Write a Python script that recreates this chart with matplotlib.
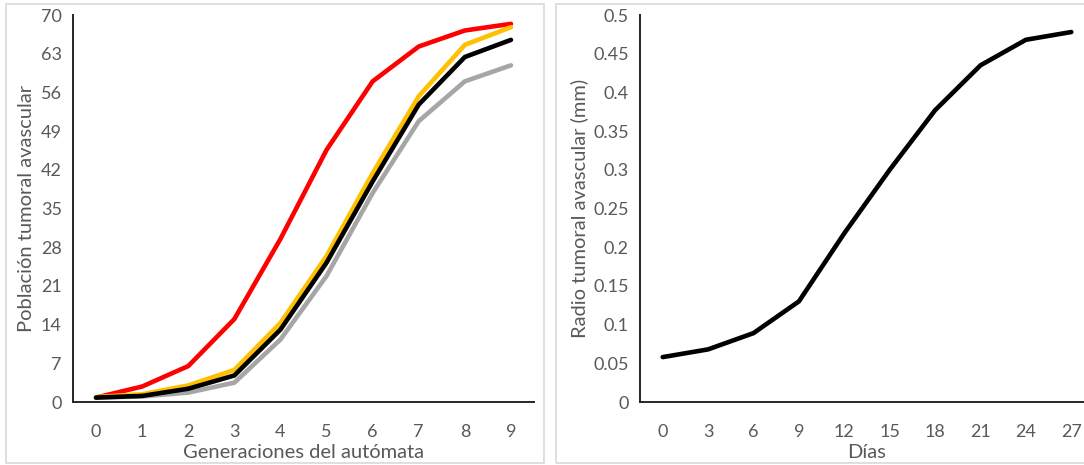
import matplotlib
matplotlib.use("Agg")
import matplotlib.pyplot as plt
from matplotlib.patches import Rectangle

plt.rcParams['font.family'] = ['Lato', 'DejaVu Sans']

# ---- data ----
generaciones = list(range(10))
pob_red = [0.8, 2.8, 6.5, 15.0, 29.5, 45.6, 58.0, 64.3, 67.2, 68.4]
pob_orange = [0.9, 1.4, 3.0, 5.8, 14.3, 26.4, 41.4, 55.3, 64.6, 67.8]
pob_black = [0.8, 1.1, 2.4, 4.8, 13.1, 25.2, 39.9, 53.8, 62.4, 65.5]
pob_gray = [0.8, 1.0, 1.7, 3.5, 11.3, 22.8, 37.8, 50.8, 58.0, 60.9]
left_yticks = [0, 7, 14, 21, 28, 35, 42, 49, 56, 63, 70]

dias = [0, 3, 6, 9, 12, 15, 18, 21, 24, 27]
radio = [0.058, 0.068, 0.089, 0.130, 0.218, 0.300, 0.377, 0.435, 0.468, 0.478]
right_yticks = [0, 0.05, 0.1, 0.15, 0.2, 0.25, 0.3, 0.35, 0.4, 0.45, 0.5]

W, H = 1084, 465
fig = plt.figure(figsize=(W / 100, H / 100), dpi=100)

def px_axes(x0, y0, x1, y1):
    return fig.add_axes([x0 / W, 1 - y1 / H, (x1 - x0) / W, (y1 - y0) / H])

# panel borders
for (x0, y0, x1, y1) in [(6, 4, 544, 463), (556, 4, 1100, 463)]:
    fig.patches.append(Rectangle((x0 / W, 1 - y1 / H), (x1 - x0) / W, (y1 - y0) / H,
                                 transform=fig.transFigure, fill=False,
                                 edgecolor='#d9d9d9', linewidth=1.2))

tick_col = '#595959'
fs = 13
fs_lab = 14.5

def style(ax):
    for s in ['top', 'right']:
        ax.spines[s].set_visible(False)
    for s in ['left', 'bottom']:
        ax.spines[s].set_color('#262626')
        ax.spines[s].set_linewidth(1.4)
    ax.tick_params(length=0, labelcolor=tick_col, labelsize=fs)
    ax.tick_params(axis='x', pad=16)
    ax.tick_params(axis='y', pad=8)

# left chart
ax1 = px_axes(73, 15, 534, 402)
lw = 3.3
ax1.plot(generaciones, pob_gray, color='#a6a6a6', lw=lw, solid_capstyle='round', solid_joinstyle='round')
ax1.plot(generaciones, pob_red, color='#ff0000', lw=lw, solid_capstyle='round', solid_joinstyle='round')
ax1.plot(generaciones, pob_orange, color='#ffc000', lw=lw, solid_capstyle='round', solid_joinstyle='round')
ax1.plot(generaciones, pob_black, color='#000000', lw=lw, solid_capstyle='round', solid_joinstyle='round')
ax1.set_xlim(-0.5, 9.5)
ax1.set_ylim(0, 70)
ax1.set_xticks(generaciones)
ax1.set_yticks(left_yticks)
ax1.set_yticklabels([str(v) for v in left_yticks])
style(ax1)
ax1.set_xlabel('Generaciones del autómata', color=tick_col, fontsize=fs_lab, labelpad=3)
ax1.set_ylabel('Población tumoral avascular', color=tick_col, fontsize=fs_lab, labelpad=4)

# right chart
ax2 = px_axes(640, 15, 1094, 402)
ax2.plot(range(len(dias)), radio, color='#000000', lw=lw, solid_capstyle='round', solid_joinstyle='round')
ax2.set_xlim(-0.5, len(dias) - 0.5)
ax2.set_ylim(0, 0.5)
ax2.set_xticks(range(len(dias)))
ax2.set_xticklabels([str(d) for d in dias])
ax2.set_yticks(right_yticks)
ax2.set_yticklabels(['0' if v == 0 else f'{v:g}' for v in right_yticks])
style(ax2)
ax2.set_xlabel('Días', color=tick_col, fontsize=fs_lab, labelpad=3)
ax2.set_ylabel('Radio tumoral avascular (mm)', color=tick_col, fontsize=fs_lab, labelpad=4)

fig.savefig('out.png', dpi=100)
